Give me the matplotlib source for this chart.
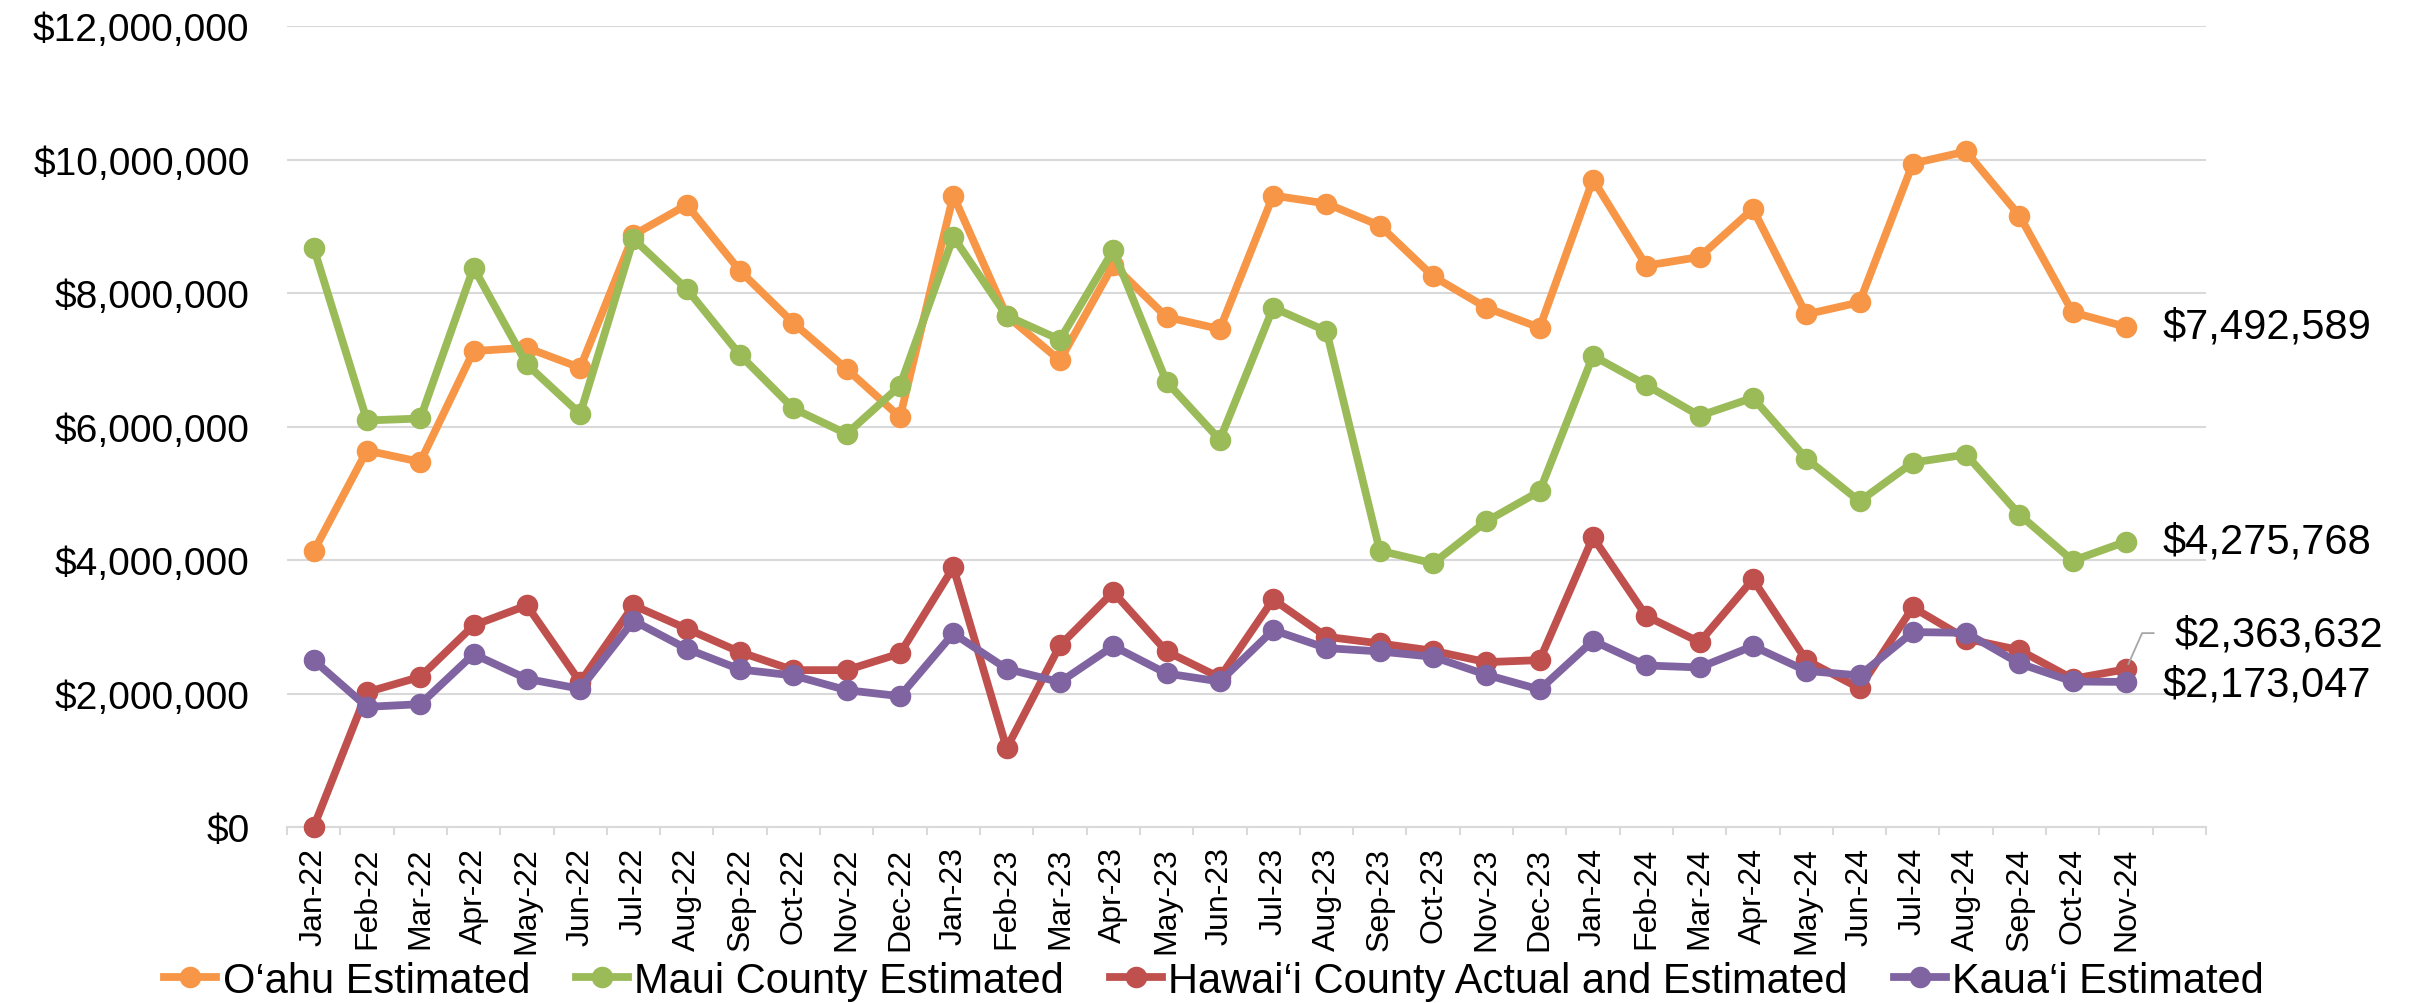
import matplotlib
matplotlib.use("Agg")
import matplotlib.pyplot as plt
from matplotlib.ticker import FuncFormatter, FixedLocator

plt.rcParams['font.family'] = ['Liberation Sans', 'DejaVu Sans']

months = ["Jan-22", "Feb-22", "Mar-22", "Apr-22", "May-22", "Jun-22", "Jul-22", "Aug-22",
          "Sep-22", "Oct-22", "Nov-22", "Dec-22", "Jan-23", "Feb-23", "Mar-23", "Apr-23",
          "May-23", "Jun-23", "Jul-23", "Aug-23", "Sep-23", "Oct-23", "Nov-23", "Dec-23",
          "Jan-24", "Feb-24", "Mar-24", "Apr-24", "May-24", "Jun-24", "Jul-24", "Aug-24",
          "Sep-24", "Oct-24", "Nov-24"]
# (Nov-24 is the last data month; the axis keeps one extra empty category slot)

oahu = [4.13, 5.64, 5.47, 7.13, 7.18, 6.88, 8.87, 9.32, 8.33, 7.55, 6.86, 6.14,
        9.46, 7.66, 6.99, 8.42, 7.64, 7.46, 9.46, 9.34, 9.01, 8.25, 7.78, 7.48,
        9.70, 8.41, 8.54, 9.26, 7.68, 7.86, 9.94, 10.12, 9.16, 7.71, 7.492589]
maui = [8.68, 6.09, 6.12, 8.38, 6.93, 6.19, 8.81, 8.06, 7.07, 6.27, 5.89, 6.61,
        8.84, 7.66, 7.30, 8.64, 6.67, 5.80, 7.78, 7.43, 4.14, 3.95, 4.58, 5.03,
        7.06, 6.62, 6.16, 6.43, 5.52, 4.88, 5.46, 5.58, 4.68, 3.99, 4.275768]
hawaii = [0.0, 2.02, 2.25, 3.02, 3.32, 2.17, 3.32, 2.97, 2.62, 2.35, 2.35, 2.60,
          3.89, 1.18, 2.72, 3.52, 2.63, 2.24, 3.41, 2.85, 2.75, 2.64, 2.47, 2.50,
          4.34, 3.16, 2.77, 3.71, 2.50, 2.08, 3.29, 2.82, 2.65, 2.22, 2.363632]
kauai = [2.50, 1.80, 1.84, 2.59, 2.22, 2.07, 3.09, 2.67, 2.36, 2.27, 2.05, 1.96,
         2.90, 2.37, 2.17, 2.71, 2.30, 2.18, 2.95, 2.68, 2.63, 2.55, 2.28, 2.06,
         2.79, 2.42, 2.39, 2.71, 2.34, 2.27, 2.92, 2.91, 2.45, 2.18, 2.173047]

series_names = ["O\u2018ahu Estimated", "Maui County Estimated",
                "Hawai\u2018i County Actual and Estimated", "Kaua\u2018i Estimated"]
series_vals = [oahu, maui, hawaii, kauai]
colors = ["#F79646", "#9BBB59", "#C0504D", "#8064A2"]

W, H = 2410, 1004
fig = plt.figure(figsize=(W / 100, H / 100), dpi=100)
left, right, top, bottom = 287, 2206, 27, 828
ax = fig.add_axes([left / W, 1 - bottom / H, (right - left) / W, (bottom - top) / H])

x = list(range(len(months)))
handles = []
for name, vals, c in zip(series_names, series_vals, colors):
    yv = [v * 1e6 for v in vals]
    ln, = ax.plot(x, yv, color=c, lw=5.6, marker='o', ms=14.5, mec=c, mfc=c,
                  clip_on=False, zorder=3, solid_joinstyle='round')
    handles.append(ln)

n_slots = len(months) + 1
ax.set_xlim(-0.5, n_slots - 0.5)
ax.set_ylim(0, 12e6)
ax.yaxis.set_major_locator(FixedLocator([i * 2e6 for i in range(7)]))
ax.yaxis.set_major_formatter(FuncFormatter(lambda v, p: "${:,.0f}".format(v)))
ax.tick_params(axis='y', length=0, pad=27, labelsize=28, labelcolor='black')

ax.set_xticks(x)
ax.set_xticklabels(months, rotation=90, fontsize=23)
ax.set_xticks([i - 0.5 for i in range(n_slots + 1)], minor=True)
ax.tick_params(axis='x', which='major', length=0, pad=14)
ax.tick_params(axis='x', which='minor', length=6, width=1.5, color='#D9D9D9')

ax.grid(axis='y', color='#D9D9D9', lw=1.5, zorder=0)
ax.set_axisbelow(True)
for s in ['left', 'right', 'top']:
    ax.spines[s].set_visible(False)
ax.spines['bottom'].set_color('#D9D9D9')
ax.spines['bottom'].set_linewidth(1.5)

# end-of-series data labels
last = len(months) - 1
lab_kw = dict(textcoords='offset points', ha='left', va='center', fontsize=30,
              annotation_clip=False)
ax.annotate("${:,.0f}".format(round(oahu[-1] * 1e6)), xy=(last, oahu[-1] * 1e6),
            xytext=(26, 0), **lab_kw)
ax.annotate("${:,.0f}".format(round(maui[-1] * 1e6)), xy=(last, maui[-1] * 1e6),
            xytext=(26, 0), **lab_kw)
ax.annotate("${:,.0f}".format(round(kauai[-1] * 1e6)), xy=(last, kauai[-1] * 1e6),
            xytext=(26, -2), **lab_kw)
ax.annotate("${:,.0f}".format(round(hawaii[-1] * 1e6)), xy=(last, hawaii[-1] * 1e6),
            xytext=(35, 25), **lab_kw)
ax.annotate("", xy=(last, hawaii[-1] * 1e6), xytext=(20, 26),
            textcoords='offset points', annotation_clip=False,
            arrowprops=dict(arrowstyle='-', color='#A6A6A6', lw=1.3, shrinkA=0, shrinkB=4,
                            connectionstyle='angle,angleA=0,angleB=66,rad=0'))

leg = fig.legend(handles=handles, labels=series_names, loc='center',
                 bbox_to_anchor=(1214 / W, 1 - 982 / H), ncol=4, frameon=False,
                 fontsize=30, handlelength=1.25, handletextpad=0.15,
                 columnspacing=1.1, borderaxespad=0, borderpad=0)

fig.savefig("out.png", dpi=100, facecolor='white')
